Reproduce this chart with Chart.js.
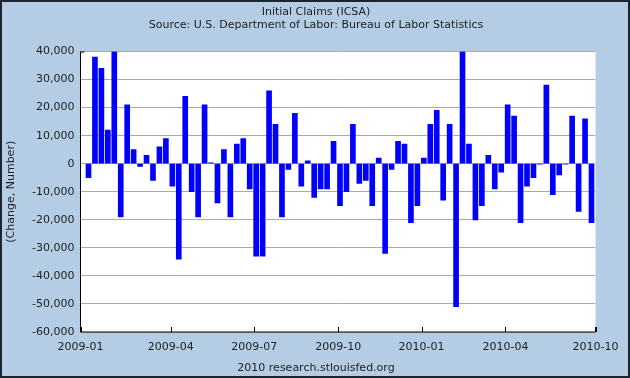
<!DOCTYPE html>
<html>
<head>
<meta charset="utf-8">
<script src="https://cdn.jsdelivr.net/npm/chart.js@4/dist/chart.umd.min.js"></script>
<style>
  html, body { margin: 0; padding: 0; background: #b4cde4; }
  #wrap { width: 630px; height: 378px; position: relative; }
</style>
</head>
<body>
<div id="wrap"><canvas id="c" width="630" height="378"></canvas></div>
<script>
// weekly change in initial claims (week 1 = early Jan 2009)
const claimChanges = [
  -5000, 38000, 34000, 12000, 40000, -19000, 21000, 5000, -1000, 3000,
  -6000, 6000, 9000, -8000, -34000, 24000, -10000, -19000, 21000, 300,
  -14000, 5000, -19000, 7000, 9000, -9000, -33000, -33000, 26000, 14000,
  -19000, -2000, 18000, -8000, 1000, -12000, -9000, -9000, 8000, -15000,
  -10000, 14000, -7000, -6000, -15000, 2000, -32000, -2000, 8000, 7000,
  -21000, -15000, 2000, 14000, 19000, -13000, 14000, -51000, 40000, 7000,
  -20000, -15000, 3000, -9000, -3000, 21000, 17000, -21000, -8000, -5000,
  -200, 28000, -11000, -4000, -200, 17000, -17000, 16000, -21000
];

// x axis labels and where they sit (in weeks)
const xTickLabels = ['2009-01', '2009-04', '2009-07', '2009-10', '2010-01', '2010-04', '2010-10'];
const xTickWeeks = [-0.24, 13.76, 26.71, 39.74, 52.64, 65.65, 79.62];

const yMin = -60000, yMax = 40000, yStep = 10000;

const FONT = 'DejaVu Sans';

// blue page background, white plot, dark frame, header and footer text
const decor = {
  id: 'decor',
  beforeDraw(chart) {
    const { ctx, chartArea: a } = chart;
    ctx.save();
    ctx.fillStyle = '#b4cde4';
    ctx.fillRect(0, 0, chart.width, chart.height);
    ctx.fillStyle = '#ffffff';
    ctx.fillRect(a.left, a.top, a.right - a.left, a.bottom - a.top);
    ctx.restore();
  },
  afterDraw(chart) {
    const { ctx, chartArea: a } = chart;
    const x = chart.scales.x;
    ctx.save();
    // x tick marks pointing up into the plot
    ctx.strokeStyle = '#000';
    ctx.lineWidth = 1;
    xTickWeeks.forEach(w => {
      const px = Math.round(x.getPixelForValue(w)) + 0.5;
      ctx.beginPath();
      ctx.moveTo(px, a.bottom);
      ctx.lineTo(px, a.bottom - 5);
      ctx.stroke();
    });
    // left and bottom axis lines
    ctx.beginPath();
    ctx.moveTo(a.left, a.top);
    ctx.lineTo(a.left, a.bottom);
    ctx.lineTo(a.right, a.bottom);
    ctx.lineTo(a.right, a.bottom - 5);
    ctx.stroke();
    ctx.beginPath();
    ctx.moveTo(a.left, a.top + 0.5);
    ctx.lineTo(a.left + 4, a.top + 0.5);
    ctx.stroke();

    ctx.fillStyle = '#222';
    ctx.textAlign = 'center';
    ctx.textBaseline = 'middle';
    ctx.font = '11px "' + FONT + '"';
    ctx.fillText('Initial Claims (ICSA)', 316, 12);
    ctx.fillText('Source: U.S. Department of Labor: Bureau of Labor Statistics', 316, 25);
    ctx.fillText('2010 research.stlouisfed.org', 316, 368);

    // outer frame
    ctx.strokeStyle = '#1c2430';
    ctx.lineWidth = 2;
    ctx.strokeRect(1, 1, chart.width - 2, chart.height - 2);
    ctx.restore();
  }
};

new Chart(document.getElementById('c'), {
  type: 'bar',
  data: {
    datasets: [{
      data: claimChanges.map((v, i) => ({ x: i + 1, y: v })),
      backgroundColor: '#0000ff',
      borderWidth: 0,
      barThickness: 5
    }]
  },
  options: {
    responsive: false,
    animation: false,
    devicePixelRatio: 1,
    layout: { padding: { left: 0, right: 34.5, top: 51.5, bottom: 0 } },
    plugins: {
      legend: { display: false },
      tooltip: { enabled: false }
    },
    scales: {
      x: {
        type: 'linear',
        min: xTickWeeks[0],
        max: xTickWeeks[xTickWeeks.length - 1],
        offset: false,
        afterFit(scale) { scale.height = 46; },
        afterBuildTicks(scale) { scale.ticks = xTickWeeks.map(v => ({ value: v })); },
        grid: { display: false, drawTicks: false },
        border: { display: false },
        ticks: {
          autoSkip: false,
          maxRotation: 0,
          padding: 9,
          color: '#222',
          font: { family: FONT, size: 11 },
          callback: (v, i) => xTickLabels[i]
        }
      },
      y: {
        min: yMin,
        max: yMax,
        afterFit(scale) { scale.width = 80.5; },
        grid: { color: '#aaaaaa', lineWidth: 1, drawTicks: false },
        border: { display: false },
        ticks: {
          stepSize: yStep,
          padding: 6,
          color: '#222',
          font: { family: FONT, size: 11 },
          callback: v => v.toLocaleString('en-US')
        },
        title: {
          display: true,
          text: '(Change, Number)',
          color: '#222',
          font: { family: FONT, size: 11 },
          padding: { top: 5, bottom: 0 }
        }
      }
    }
  },
  plugins: [decor]
});
</script>
</body>
</html>
